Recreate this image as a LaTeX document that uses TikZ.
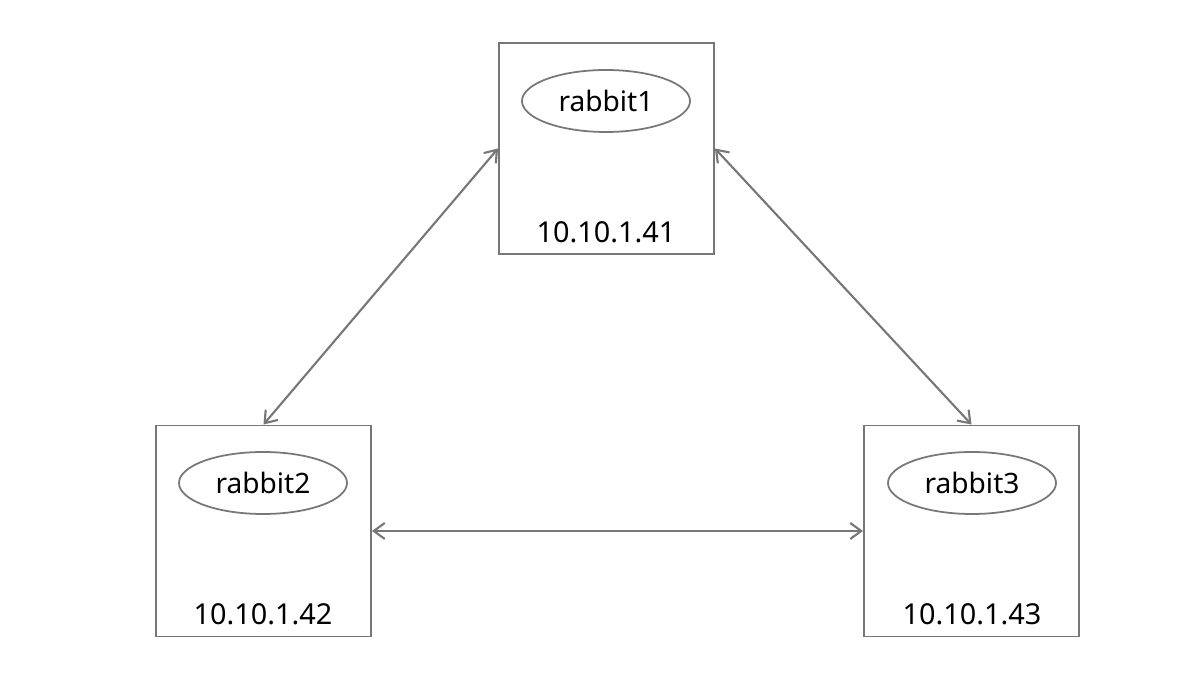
\documentclass[tikz,border=0pt]{standalone}
\usepackage{fontspec}
\setmainfont{Noto Sans}
\usetikzlibrary{arrows.meta}
\usetikzlibrary{shapes.geometric}

\definecolor{linegray}{HTML}{777777}

\tikzset{
    hostbox/.style={draw=linegray, line width=1.1pt, minimum width=4.3cm, minimum height=4.22cm, inner sep=0pt},
    broker/.style={draw=linegray, line width=1.0pt, ellipse, minimum width=3.36cm, minimum height=1.24cm, inner sep=0pt, font=\fontsize{16}{19}\selectfont},
    hostip/.style={font=\fontsize{16.4}{19}\selectfont},
    link/.style={draw=linegray, line width=1.2pt, {Straight Barb[length=2.2mm, width=3.2mm]}-{Straight Barb[length=2.2mm, width=3.2mm]}}
}

\begin{document}
\begin{tikzpicture}
    \useasboundingbox (0,0) rectangle (24.04,13.6);

    % host boxes
    \node[hostbox] (host1) at (12.13,10.63) {};
    \node[hostbox] (host2) at (5.27,2.98) {};
    \node[hostbox] (host3) at (19.43,2.98) {};

    % brokers
    \node[broker] (rabbit1) at (12.12,11.58) {rabbit1};
    \node[broker] (rabbit2) at (5.26,3.94) {rabbit2};
    \node[broker] (rabbit3) at (19.44,3.94) {rabbit3};

    % ip addresses
    \node[hostip] (ip1) at (12.12,8.96) {10.10.1.41};
    \node[hostip] (ip2) at (5.26,1.32) {10.10.1.42};
    \node[hostip] (ip3) at (19.44,1.32) {10.10.1.43};

    % cluster links
    \draw[link] (host1.west) -- (host2.north);
    \draw[link] (host1.east) -- (host3.north);
    \draw[link] (host2.east) -- (host3.west);
\end{tikzpicture}
\end{document}
